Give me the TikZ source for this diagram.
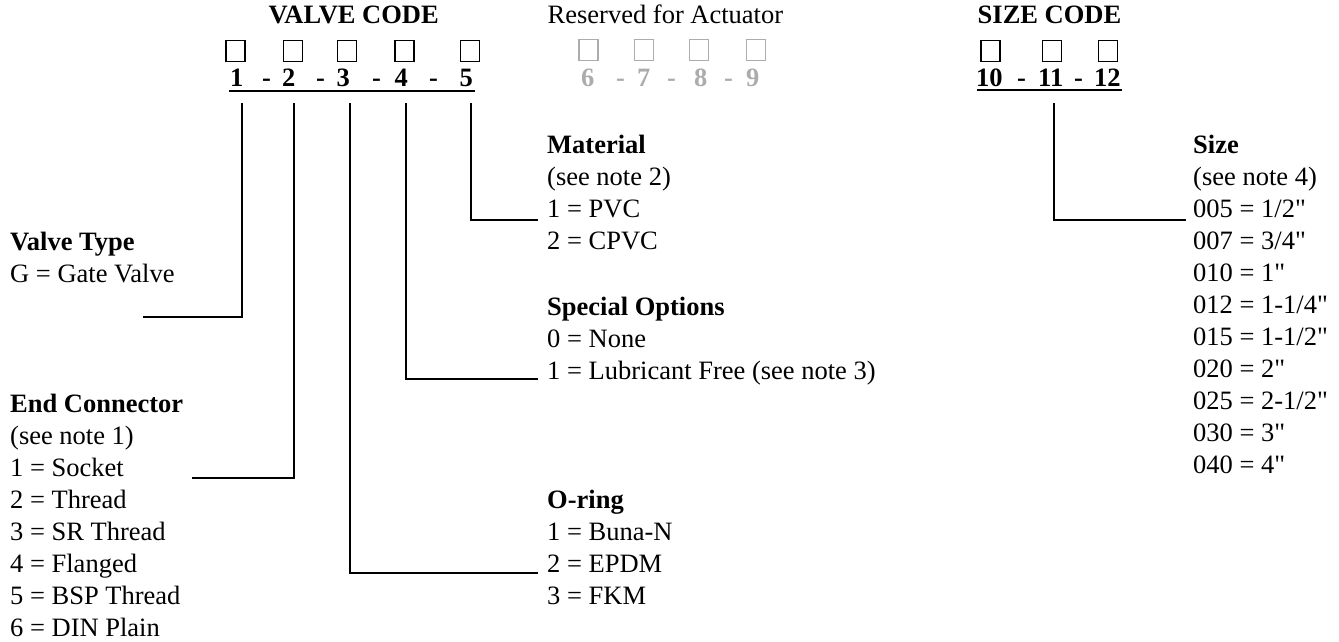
\documentclass[tikz,border=0pt]{standalone}
\usepackage{fontspec}
\setmainfont{Liberation Serif}
\newfontface\nomapfont{Liberation Serif}[Ligatures=TeXOff]
\usepackage{xcolor}
\definecolor{resgray}{RGB}{172,172,172}
\newcommand{\inch}{{\nomapfont"}}

\begin{document}
\begin{tikzpicture}[x=1pt, y=-1pt,
  txt/.style={anchor=base west, inner sep=0pt, font=\fontsize{26.5}{32}\selectfont},
  head/.style={txt, font=\fontsize{26.5}{32}\selectfont\bfseries},
  codebox/.style={draw, line width=1.6pt, minimum width=19pt, minimum height=21pt, inner sep=0pt},
  lead/.style={line width=1.7pt}]
\useasboundingbox (0,0) rectangle (1339,642);

\node[head] (vcode) at (268.5,24) {VALVE CODE};
\node[txt] (rcode) at (547.5,24) {Reserved for Actuator};
\node[head] (scode) at (977.5,24) {SIZE CODE};

\foreach \x [count=\i] in {235.5,293,347,404.5,470} \node[codebox] (vb\i) at (\x,51) {};
\foreach \x [count=\i] in {588.5,644,699,756} \node[codebox, draw=resgray] (rb\i) at (\x,50) {};
\foreach \x [count=\i] in {990.5,1052,1108} \node[codebox] (sb\i) at (\x,51) {};

\foreach \d/\x in {1/230,2/282,3/336.5,4/394.5,5/459.5} \node[head] (vd\d) at (\x,86) {\d};
\foreach \x [count=\i] in {262,316,372,429} \node[head] (vdash\i) at (\x,86) {-};
\foreach \d/\x in {6/581,7/637,8/694,9/746} \node[head, text=resgray] (rd\d) at (\x,86) {\d};
\foreach \x [count=\i] in {616,667,724} \node[head, text=resgray] (rdash\i) at (\x,86) {-};
\foreach \d/\x in {10/976,11/1038,12/1094} \node[head] (sd\d) at (\x,86) {\d};
\foreach \x [count=\i] in {1017,1074} \node[head] (sdash\i) at (\x,86) {-};
\draw[line width=1.8pt] ([shift={(-1,5)}]vd1.base west) -- ([shift={(2,5)}]vd5.base east);
\draw[line width=1.8pt] ([shift={(1,4)}]sd10.base west) -- ([shift={(1,4)}]sd12.base east);

% left column
\node[head] (vtype) at (10,250) {Valve Type};
\node[txt] (vt1) at (10,282) {G = Gate Valve};
\node[head] (econ) at (10,412) {End Connector};
\foreach \t [count=\i] in {{(see note 1)},{1 = Socket},{2 = Thread},{3 = SR Thread},{4 = Flanged},{5 = BSP Thread},{6 = DIN Plain}}
  \node[txt] (ec\i) at (10,412+32*\i) {\t};

% middle column
\node[head] (mat) at (547,153) {Material};
\foreach \t [count=\i] in {{(see note 2)},{1 = PVC},{2 = CPVC}}
  \node[txt] (mat\i) at (547,153+32*\i) {\t};
\node[head] (spo) at (547,315) {Special Options};
\foreach \t [count=\i] in {{0 = None},{1 = Lubricant Free (see note 3)}}
  \node[txt] (sp\i) at (547,315+32*\i) {\t};
\node[head] (oring) at (547,508) {O-ring};
\foreach \t [count=\i] in {{1 = Buna-N},{2 = EPDM},{3 = FKM}}
  \node[txt] (or\i) at (547,508+32*\i) {\t};

% size column
\node[head] (size) at (1193,153) {Size};
\foreach \t [count=\i] in {{(see note 4)},{005 = 1/2\inch},{007 = 3/4\inch},{010 = 1\inch},{012 = 1-1/4\inch},{015 = 1-1/2\inch},{020 = 2\inch},{025 = 2-1/2\inch},{030 = 3\inch},{040 = 4\inch}}
  \node[txt] (sz\i) at (1193,153+32*\i) {\t};

\foreach \x [count=\i] in {242,294,350,406,471} \coordinate (tk\i) at (\x,103);
\coordinate (tksz) at (1054,103);
\coordinate (vtend) at (143,317);
\coordinate (ecend) at (192,478);

\draw[lead] (tk1) |- (vtend);
\draw[lead] (tk2) |- (ecend);
\draw[lead] (tk3) |- ([shift={(-9,1)}]or2.base west);
\draw[lead] (tk4) |- ([shift={(-9,0)}]sp2.base west);
\draw[lead] (tk5) |- ([shift={(-9,3)}]mat2.base west);
\draw[lead] (tksz) |- ([shift={(-7,3)}]sz2.base west);
\end{tikzpicture}
\end{document}
